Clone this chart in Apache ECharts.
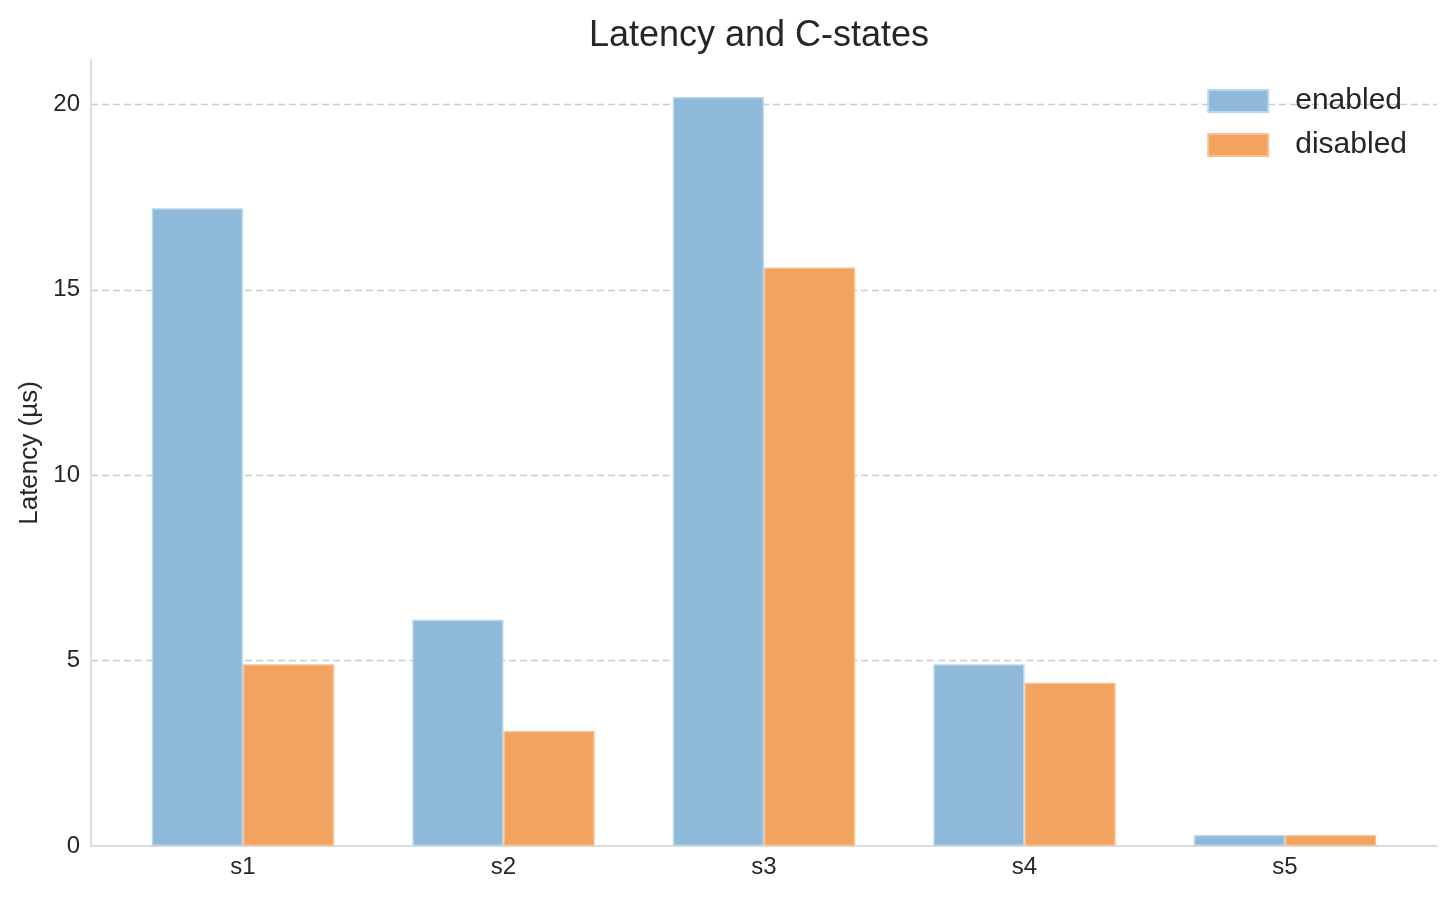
<!DOCTYPE html>
<html><head><meta charset="utf-8">
<script src="https://cdn.jsdelivr.net/npm/echarts@6/dist/echarts.min.js"></script>
<style>html,body{margin:0;padding:0;background:#fff}#c{width:1456px;height:898px}</style>
</head><body><div id="c"></div>
<script>
const categories = ['s1', 's2', 's3', 's4', 's5'];
const enabledValues = [17.2, 6.1, 20.2, 4.9, 0.3];
const disabledValues = [4.9, 3.1, 15.6, 4.4, 0.3];
const yTicks = [0, 5, 10, 15, 20];

const font = '"Liberation Sans", Arial, sans-serif';
const chart = echarts.init(document.getElementById('c'), null, {renderer: 'canvas'});
const toPairs = arr => arr.map((v, i) => [i, v]);

chart.setOption({
  animation: false,
  backgroundColor: '#fff',
  title: {
    text: 'Latency and C-states', left: 754, top: 13, textAlign: 'center',
    textStyle: {fontFamily: font, fontSize: 36, fontWeight: 'normal', color: '#262626'}
  },
  legend: {
    right: 44, top: 81, orient: 'vertical', itemWidth: 60, itemHeight: 22, itemGap: 14,
    icon: 'rect',
    textStyle: {fontFamily: font, fontSize: 30, color: '#262626', padding: [0, 0, 0, 22]},
    data: ['enabled', 'disabled']
  },
  grid: {left: 91, right: 19, top: 60, bottom: 52, containLabel: false},
  xAxis: {
    type: 'value', min: -0.5833, max: 4.5833,
    axisLine: {show: true, onZero: false, lineStyle: {color: '#dcdcdc', width: 2}},
    axisTick: {show: false},
    splitLine: {show: false},
    axisLabel: {
      customValues: [0, 1, 2, 3, 4],
      formatter: v => categories[Math.round(v)] || '',
      fontFamily: font, fontSize: 24, color: '#262626', margin: 9
    }
  },
  yAxis: {
    type: 'value', min: 0, max: 21.2, interval: 5,
    name: 'Latency (µs)', nameLocation: 'middle', nameGap: 48, nameRotate: 90,
    nameTextStyle: {fontFamily: font, fontSize: 26, color: '#262626'},
    axisLine: {show: true, onZero: false, lineStyle: {color: '#dcdcdc', width: 2}},
    axisTick: {show: false},
    axisLabel: {
      customValues: yTicks,
      fontFamily: font, fontSize: 24, color: '#262626', margin: 11
    },
    splitLine: {show: true, showMinLine: false, showMaxLine: false,
      lineStyle: {color: '#cccccc', type: [7, 4], width: 1.3}}
  },
  series: [
    {
      name: 'enabled', type: 'bar', data: toPairs(enabledValues),
      barWidth: '35%', barGap: '0%',
      itemStyle: {color: '#8FB9D9', borderColor: '#B8D6EC', borderWidth: 1.5}
    },
    {
      name: 'disabled', type: 'bar', data: toPairs(disabledValues),
      barWidth: '35%', barGap: '0%',
      itemStyle: {color: '#F2A360', borderColor: '#F8C08F', borderWidth: 1.5}
    }
  ]
});
</script></body></html>
